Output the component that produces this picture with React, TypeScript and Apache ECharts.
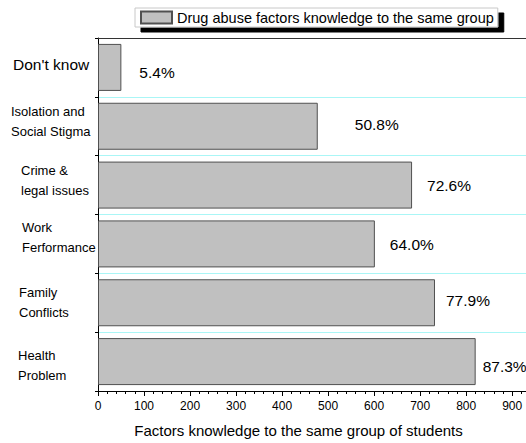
import React, { useEffect, useRef } from "react";
import * as echarts from "echarts";

// Factor categories, top to bottom
const categories = [
  "Don't know",
  "Isolation and\nSocial Stigma",
  "Crime &\nlegal issues",
  "Work\nFerformance",
  "Family\nConflicts",
  "Health\nProblem",
];

// Share of students naming each factor (%)
const percents = [5.4, 50.8, 72.6, 64.0, 77.9, 87.3];

// Number of students surveyed
const totalStudents = 940;

const xTicks = { min: 0, max: 930, interval: 100 };

const FONT = "'Liberation Sans', Arial, sans-serif";

// Category label layout: indent from the common left edge, vertical nudge (px, negative = up)
const labelIndent = [2, 0, 10, 11, 8, 7];
const labelShift = [-3, -5, -5, -6, 0, 4];
const labelFontSize = [15.5, 13, 13, 13, 13, 13];

// Per-bar value label placement
const valueLabelPlacement = [
  { distance: 18, dy: 5 },
  { distance: 37, dy: -1.5 },
  { distance: 15, dy: 0 },
  { distance: 15, dy: 1 },
  { distance: 11, dy: -2 },
  { distance: 7, dy: 4.5 },
];

export default function App() {
  const ref = useRef<HTMLDivElement>(null);

  useEffect(() => {
    if (!ref.current) return;
    const chart = echarts.init(ref.current, undefined, { renderer: "svg" });

    const seriesData = percents.map((p, i) => ({
      value: (p / 100) * totalStudents,
      label: {
        distance: valueLabelPlacement[i].distance,
        offset: [0, valueLabelPlacement[i].dy],
        formatter: p.toFixed(1) + "%",
      },
    }));

    // Rich styles: one text style per category plus spacer lines for nudging
    const rich: Record<string, any> = {};
    categories.forEach((_, i) => {
      rich["l" + i] = {
        fontFamily: FONT,
        fontSize: labelFontSize[i],
        lineHeight: i === 0 ? 18 : 20,
        color: "#000",
        padding: [0, 0, 0, labelIndent[i]],
      };
      const s = Math.abs(labelShift[i]);
      if (s > 0) {
        rich["g" + i] = { fontSize: 1, lineHeight: s * 2, color: "transparent" };
      }
    });

    const formatLabel = (value: string, index: number) => {
      const body = value
        .split("\n")
        .map((line) => `{l${index}|${line}}`)
        .join("\n");
      const shift = labelShift[index];
      if (shift < 0) return `${body}\n{g${index}| }`;
      if (shift > 0) return `{g${index}| }\n${body}`;
      return body;
    };

    chart.setOption({
      animation: false,
      backgroundColor: "#ffffff",
      textStyle: { fontFamily: FONT },
      legend: {
        left: 135,
        top: 8,
        itemWidth: 31,
        itemHeight: 12,
        padding: [2, 4, 2, 5],
        backgroundColor: "#ffffff",
        borderColor: "#c8c8c8",
        borderWidth: 1,
        shadowColor: "#000000",
        shadowBlur: 0,
        shadowOffsetX: 6,
        shadowOffsetY: 5,
        textStyle: { fontFamily: FONT, fontSize: 14.5, color: "#000", lineHeight: 15 },
        data: [{ name: "Drug abuse factors knowledge to the same group", icon: "rect" }],
      },
      grid: {
        left: 98,
        right: 0,
        top: 38,
        bottom: 52,
        containLabel: false,
        outerBoundsMode: "none",
      },
      xAxis: [
        {
          type: "value",
          position: "bottom",
          min: xTicks.min,
          max: xTicks.max,
          interval: xTicks.interval,
          name: "Factors knowledge to the same group of students",
          nameLocation: "middle",
          nameGap: 32,
          nameTextStyle: {
            fontFamily: FONT,
            fontSize: 15,
            color: "#000",
            padding: [0, 27, 0, 0],
          },
          axisLine: { show: true, lineStyle: { color: "#000", width: 1 } },
          axisTick: { show: true, length: 5, lineStyle: { color: "#000" } },
          minorTick: { show: true, splitNumber: 5, length: 3, lineStyle: { color: "#000" } },
          axisLabel: {
            fontFamily: FONT,
            fontSize: 12,
            color: "#000",
            margin: 9,
            showMaxLabel: false,
            formatter: (v: number) => (v % 100 === 0 ? String(v) : ""),
          },
          splitLine: { show: false },
        },
        {
          type: "value",
          position: "top",
          min: xTicks.min,
          max: xTicks.max,
          axisLine: { show: true, lineStyle: { color: "#333", width: 1 } },
          axisTick: { show: false },
          axisLabel: { show: false },
          splitLine: { show: false },
        },
      ],
      yAxis: {
        type: "category",
        inverse: true,
        data: categories,
        axisLine: { show: true, lineStyle: { color: "#000", width: 1 } },
        axisTick: { show: true, length: 3, lineStyle: { color: "#000" } },
        axisLabel: {
          interval: 0,
          align: "left",
          margin: 87,
          fontFamily: FONT,
          fontSize: 13,
          color: "#000",
          formatter: formatLabel,
          rich,
        },
        splitLine: { show: true, lineStyle: { color: "#aaf6f6", width: 1 } },
      },
      series: [
        {
          type: "bar",
          name: "Drug abuse factors knowledge to the same group",
          xAxisIndex: 0,
          data: seriesData,
          barWidth: 47,
          itemStyle: { color: "#c0c0c0", borderColor: "#505050", borderWidth: 1 },
          label: {
            show: true,
            position: "right",
            fontFamily: FONT,
            fontSize: 15.5,
            color: "#000",
          },
        },
      ],
    });

    return () => chart.dispose();
  }, []);

  return (
    <div
      ref={ref}
      style={{ position: "fixed", left: 0, top: 0, width: 526, height: 443 }}
    />
  );
}
